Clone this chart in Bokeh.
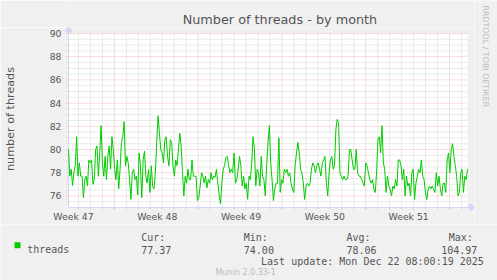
import math
from bokeh.plotting import figure
from bokeh.layouts import column, row
from bokeh.models import FixedTicker, LinearAxis, Range1d
from bokeh.core.properties import value
from bokeh.embed import file_html
from bokeh.resources import INLINE

# ---------------- data ----------------
TITLE = "Number of threads - by month"
Y_LABEL = "number of threads"
SERIES = "threads"
WATERMARK = "RRDTOOL / TOBI OETIKER"
VERSION = "Munin 2.0.33-1"
LAST_UPDATE = "Last update: Mon Dec 22 08:00:19 2025"

stat_heads = ["Cur:", "Min:", "Avg:", "Max:"]
stat_values = ["77.37", "74.00", "78.06", "104.97"]

week_labels = ["Week 47", "Week 48", "Week 49", "Week 50", "Week 51"]
# days since the start of the graph at which each week begins (Sunday 00:00)
week_starts = [3.833, 10.833, 17.833, 24.833, 31.833]
RANGE_DAYS = 33.333
Y_MIN, Y_MAX = 75, 90
y_major = [76, 78, 80, 82, 84, 86, 88, 90]

threads = [
    80.0, 77.7, 78.3, 76.9, 78.0, 78.6, 81.1, 77.7, 78.85, 77.7, 77.7, 75.85,
    77.4, 77.7, 76.85, 79.1, 78.85, 79.1, 77.0, 77.4, 80.0, 80.3, 77.7, 79.7,
    82.05, 78.85, 77.7, 79.4, 77.4, 79.4, 80.3, 78.3, 81.1, 80.0, 78.3, 77.4,
    79.1, 76.6, 78.3, 80.6, 81.1, 82.4, 78.6, 79.4, 78.85, 77.4, 75.7, 78.0,
    78.3, 77.4, 77.7, 76.1, 79.7, 78.7, 75.85, 79.1, 79.85, 77.7, 77.1, 78.3,
    76.3, 78.6, 76.85, 76.6, 78.0, 80.6, 82.9, 81.4, 80.0, 79.7, 78.85, 80.85,
    81.1, 79.4, 78.6, 80.85, 80.6, 78.6, 77.7, 79.1, 78.6, 80.0, 81.4, 80.3,
    78.0, 76.0, 77.7, 77.1, 78.3, 77.4, 77.4, 79.1, 77.7, 77.7, 77.7, 75.6,
    75.85, 76.85, 78.0, 77.7, 77.1, 77.7, 76.7, 77.4, 77.1, 78.0, 77.4, 77.7,
    77.6, 78.3, 77.1, 76.1, 75.3, 77.1, 78.3, 78.6, 79.3, 79.4, 78.6, 78.0,
    78.3, 78.0, 79.7, 77.1,
    77.4, 78.3, 79.4, 78.6, 76.85, 77.7, 76.6, 77.1, 75.7, 77.7, 77.4, 78.85,
    81.1, 80.0, 76.85, 78.3, 78.0, 76.85, 79.4, 77.7, 77.4, 76.0, 78.6, 80.6,
    82.05, 78.85, 77.4, 75.6, 76.6, 77.1, 77.1, 81.0, 76.3, 77.4, 77.1, 78.3,
    78.0, 78.3, 77.7, 78.0, 77.1, 76.6, 76.3, 78.6, 79.7, 80.6, 79.7, 78.3,
    78.0, 77.1, 75.7, 76.85, 77.1, 76.85, 77.1, 78.3, 78.85, 78.6, 78.0, 78.6,
    78.85, 78.3, 77.7, 78.85, 79.1, 79.4, 77.1, 76.0, 78.0, 79.1, 79.4, 78.3,
    78.6, 81.7, 82.6, 82.3, 78.0, 77.7, 77.4, 77.7, 77.4, 77.4, 77.7, 80.0,
    80.0, 79.1, 78.3, 78.3, 80.0, 78.0, 77.7, 77.7, 77.4, 77.1, 76.85, 78.85,
    78.6, 78.0, 77.4, 77.1, 77.4, 76.6, 76.3, 78.0, 80.85, 81.1, 79.7, 82.05,
    78.85, 78.3, 76.3, 77.7, 76.85, 76.6, 76.0, 76.85, 76.6, 77.4, 76.85, 79.1,
    79.1, 78.6, 77.4, 78.3, 76.0, 77.7, 76.85, 77.1, 76.0, 78.0, 78.3, 75.7,
    77.1, 77.7, 78.3, 78.0, 79.1, 77.7, 77.4, 76.3, 75.7, 76.6, 76.85, 76.6,
    76.85, 76.6, 76.3, 78.0, 76.85, 77.7, 76.6, 76.0, 77.1, 77.1, 76.3, 79.1,
    79.7, 78.0, 80.0, 80.5, 79.4, 78.6, 77.7, 76.0, 76.3, 78.0, 78.3, 76.3,
    77.7, 77.4, 78.3,
]

# ---------------- style / geometry (page pixels) ----------------
W, H = 497, 280
PL, PR, PT, PB = 67, 467, 33, 208          # plot area (white canvas)
ML, MR, MT, MB = 64, 474, 27, 211          # frame of the main figure
TOP_H = MT                                 # strip holding the title
MAIN_H = 224 - TOP_H                       # main figure height (to y=224)
BACK = "#F0F0F0"
FONT = "#555555"
AXIS = "#CFD6F8"
GRID = "#D6D6D6"
MGRID = "#F3B8B8"
LINE = "#00CC00"
LIGHT = "#BBBBBB"
SANS = "DejaVu Sans"
MONO = "DejaVu Sans Mono"

XPX = (PR - PL) / RANGE_DAYS               # pixels per day
YPX = (PB - PT) / (Y_MAX - Y_MIN)          # pixels per unit


def dx(px):
    return (px - PL) / XPX


def dy(py):
    return Y_MAX - (py - PT) / YPX


n = len(threads)
step = RANGE_DAYS / (n - 1)
t = [i * step for i in range(n)]

day_lines = [week_starts[0] - 3 + k for k in range(34)]
day_minor = [d for d in day_lines if 0 < d < RANGE_DAYS and all(abs(d - w) > 1e-6 for w in week_starts)]
y_minor = [Y_MIN + 0.5 * k for k in range(1, 30) if (Y_MIN + 0.5 * k) not in y_major]
label_pos = [w - 3.4167 for w in week_starts]


def strip(width, height, x0, y0):
    """helper figure whose data coordinates are page pixels"""
    f = figure(width=width, height=height, output_backend="svg", toolbar_location=None,
               x_range=Range1d(x0, x0 + width), y_range=Range1d(y0 + height, y0),
               x_axis_type=None, y_axis_type=None, min_border=0)
    f.border_fill_color = BACK
    f.background_fill_color = BACK
    f.outline_line_color = None
    f.grid.visible = False
    return f


# ---------------- main figure ----------------
p = figure(width=MR, height=MAIN_H, output_backend="svg", toolbar_location=None,
           x_range=Range1d(dx(ML), dx(MR)), y_range=Range1d(dy(MB), dy(MT)),
           x_axis_type=None, y_axis_type=None,
           min_border_left=ML, min_border_right=0, min_border_top=0,
           min_border_bottom=MAIN_H + TOP_H - MB)
p.border_fill_color = BACK
p.background_fill_color = BACK
p.outline_line_color = None

yax = LinearAxis(ticker=FixedTicker(ticks=y_major, minor_ticks=[]), axis_line_color=None,
                 major_tick_out=0, major_tick_in=0, minor_tick_out=0, minor_tick_in=0,
                 major_label_text_font=SANS, major_label_text_font_size="9.3px",
                 major_label_text_color=FONT, major_label_standoff=4,
                 axis_label=Y_LABEL, axis_label_text_font=SANS,
                 axis_label_text_font_size="11.2px", axis_label_text_font_style="normal",
                 axis_label_text_color=FONT, axis_label_standoff=30)
p.add_layout(yax, "left")

xax = LinearAxis(ticker=FixedTicker(ticks=label_pos, minor_ticks=[]), axis_line_color=None,
                 major_tick_out=0, major_tick_in=0, minor_tick_out=0, minor_tick_in=0,
                 major_label_overrides={pos: lbl for pos, lbl in zip(label_pos, week_labels)},
                 major_label_text_font=SANS, major_label_text_font_size="9.3px",
                 major_label_text_color=FONT, major_label_standoff=0)
p.add_layout(xax, "below")

# white canvas
p.quad(left=[0], right=[RANGE_DAYS], bottom=[Y_MIN], top=[Y_MAX],
       fill_color="#FFFFFF", line_color=None)

# grid (dotted) incl. the short ticks left of the y axis
p.segment(x0=[dx(ML)] * len(y_minor), y0=y_minor, x1=[RANGE_DAYS] * len(y_minor), y1=y_minor,
          line_color=GRID, line_width=1, line_dash="1 1")
p.segment(x0=day_minor, y0=[Y_MIN] * len(day_minor), x1=day_minor, y1=[Y_MAX] * len(day_minor),
          line_color=GRID, line_width=1, line_dash="1 1")
p.segment(x0=[dx(ML)] * len(y_major), y0=y_major, x1=[RANGE_DAYS] * len(y_major), y1=y_major,
          line_color=MGRID, line_width=1, line_dash="1 1")
p.segment(x0=week_starts, y0=[Y_MIN] * len(week_starts), x1=week_starts,
          y1=[Y_MAX] * len(week_starts), line_color=MGRID, line_width=1, line_dash="1 1")

# short ticks below the x axis
p.segment(x0=day_minor, y0=[Y_MIN] * len(day_minor), x1=day_minor,
          y1=[dy(PB + 2.5)] * len(day_minor), line_color=GRID, line_width=1)
p.segment(x0=week_starts, y0=[Y_MIN] * len(week_starts), x1=week_starts,
          y1=[dy(PB + 2.5)] * len(week_starts), line_color=MGRID, line_width=1)

# axis lines with arrow heads
p.segment(x0=[0, 0], y0=[Y_MIN, Y_MIN], x1=[dx(470), 0], y1=[Y_MIN, dy(30)],
          line_color=AXIS, line_width=1)
p.scatter(x=[0], y=[dy(29.5)], marker="triangle", size=7,
          fill_color=AXIS, line_color=AXIS)
p.scatter(x=[dx(471)], y=[Y_MIN], marker="triangle", size=7, angle=-math.pi / 2,
          fill_color=AXIS, line_color=AXIS)

# the series
p.line(t, threads, line_color=LINE, line_width=1)

# ---------------- title strip ----------------
top = strip(MR, TOP_H, 0, 0)
top.text(x=[248.5], y=[18.5], text=[TITLE], text_font=value(SANS),
         text_font_size=value("12.8px"), text_color=FONT, text_align="center",
         text_baseline="alphabetic")

# ---------------- right strip (watermark) ----------------
right = strip(W - MR, 224, MR, 0)
right.text(x=[485.3], y=[5], text=[WATERMARK], text_font=value(SANS),
           text_font_size=value("7.9px"), text_color=LIGHT, text_align="left",
           text_baseline="alphabetic", angle=-math.pi / 2)

# ---------------- legend / stats strip ----------------
bot = strip(W, H - 224, 0, 224)
bot.quad(left=[14], right=[20], top=[241.7], bottom=[247.7], fill_color=LINE, line_color=None)
head_x = [140.7, 243.3, 346.0, 448.3]
val_x = [140.7, 243.3, 346.0, 440.7]
bot.text(x=[26.7] + head_x + val_x, y=[249] + [236.8] * 4 + [249] * 4,
         text=[SERIES] + stat_heads + stat_values, text_font=value(MONO),
         text_font_size=value("10px"), text_color=FONT, text_align="left",
         text_baseline="alphabetic")
bot.text(x=[483.3], y=[260.8], text=[LAST_UPDATE], text_font=value(MONO),
         text_font_size=value("10px"), text_color=FONT, text_align="right",
         text_baseline="alphabetic")
bot.text(x=[215], y=[271.7], text=[VERSION], text_font=value(SANS),
         text_font_size=value("8px"), text_color=LIGHT, text_align="left",
         text_baseline="alphabetic")

layout = column(row(column(top, p, spacing=0), right, spacing=0), bot, spacing=0)
open("out.html", "w").write(file_html(layout, INLINE))
